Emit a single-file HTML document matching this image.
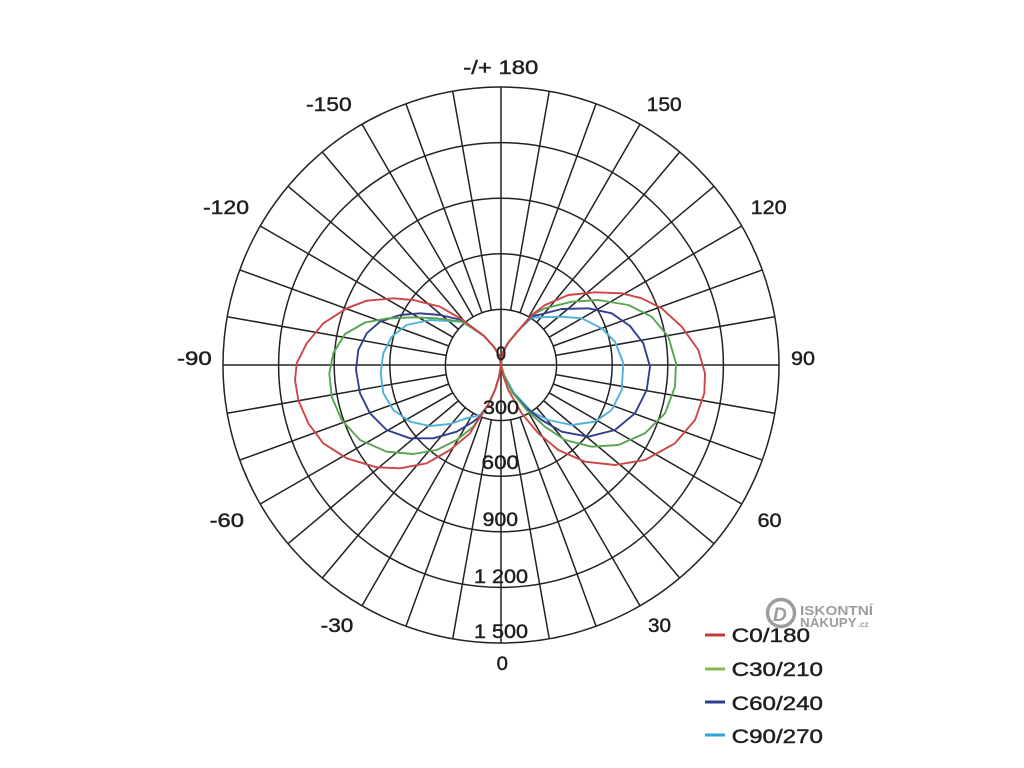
<!DOCTYPE html>
<html>
<head>
<meta charset="utf-8">
<style>
html,body{margin:0;padding:0;background:#fff;}
svg{display:block;}
text{font-family:"Liberation Sans",sans-serif;fill:#1e1e1e;stroke:#1e1e1e;stroke-width:0.45;}
</style>
</head>
<body>
<svg width="1024" height="768" viewBox="0 0 1024 768" xmlns="http://www.w3.org/2000/svg">
<rect width="1024" height="768" fill="#fff"/>
<!-- grid -->
<g transform="translate(501 365)" stroke="#222" stroke-width="1.5" fill="none">
  <circle r="55.6"/>
  <circle r="111.2"/>
  <circle r="166.8"/>
  <circle r="222.4"/>
  <circle r="278"/>
  <line x1="-278" y1="0" x2="278" y2="0"/>
  <line x1="0" y1="-278" x2="0" y2="278"/>
  <g>
    <line x1="55.6" x2="278" transform="rotate(10)"/>
    <line x1="55.6" x2="278" transform="rotate(20)"/>
    <line x1="55.6" x2="278" transform="rotate(30)"/>
    <line x1="55.6" x2="278" transform="rotate(40)"/>
    <line x1="55.6" x2="278" transform="rotate(50)"/>
    <line x1="55.6" x2="278" transform="rotate(60)"/>
    <line x1="55.6" x2="278" transform="rotate(70)"/>
    <line x1="55.6" x2="278" transform="rotate(80)"/>
    <line x1="55.6" x2="278" transform="rotate(100)"/>
    <line x1="55.6" x2="278" transform="rotate(110)"/>
    <line x1="55.6" x2="278" transform="rotate(120)"/>
    <line x1="55.6" x2="278" transform="rotate(130)"/>
    <line x1="55.6" x2="278" transform="rotate(140)"/>
    <line x1="55.6" x2="278" transform="rotate(150)"/>
    <line x1="55.6" x2="278" transform="rotate(160)"/>
    <line x1="55.6" x2="278" transform="rotate(170)"/>
    <line x1="55.6" x2="278" transform="rotate(190)"/>
    <line x1="55.6" x2="278" transform="rotate(200)"/>
    <line x1="55.6" x2="278" transform="rotate(210)"/>
    <line x1="55.6" x2="278" transform="rotate(220)"/>
    <line x1="55.6" x2="278" transform="rotate(230)"/>
    <line x1="55.6" x2="278" transform="rotate(240)"/>
    <line x1="55.6" x2="278" transform="rotate(250)"/>
    <line x1="55.6" x2="278" transform="rotate(260)"/>
    <line x1="55.6" x2="278" transform="rotate(280)"/>
    <line x1="55.6" x2="278" transform="rotate(290)"/>
    <line x1="55.6" x2="278" transform="rotate(300)"/>
    <line x1="55.6" x2="278" transform="rotate(310)"/>
    <line x1="55.6" x2="278" transform="rotate(320)"/>
    <line x1="55.6" x2="278" transform="rotate(330)"/>
    <line x1="55.6" x2="278" transform="rotate(340)"/>
    <line x1="55.6" x2="278" transform="rotate(350)"/>
  </g>
</g>

<!-- curves -->
<g fill="none" stroke-width="1.9" stroke-linejoin="round" stroke-linecap="round">
  <!-- cyan C90/270 -->
  <path stroke="#4fb0d8" d="M501,365 L499,355 L494,347 L484,336 L472,328 L461.7,321.7 L430,320 L406.7,325 L391.7,336.7 L383.3,353.3 L380.7,373.3 L383.3,393.3 L393.3,410 L410,421.7 L430,426 L450,424 L466.7,418.3 L480,415 L488,405 L495,390 L499,377 Z"/>
  <path stroke="#4fb0d8" d="M501,365 L503,352 L508,343 L517,332 L531.7,317.5 L561.7,316.7 L581.7,318.3 L601.7,328.3 L615,341.7 L623.3,363 L621.7,390 L611.7,410 L595,421.7 L571.7,425 L548.3,420 L531.7,411.7 L514,393 L504,375 Z"/>
  <!-- blue C60/240 -->
  <path stroke="#323e90" d="M501,365 L499,355 L494,347 L484,336 L472,327 L461.7,320 L440,315 L420,313.3 L400,315 L380,321.7 L366.7,333.3 L358.3,350 L356,370 L360,393.3 L370,413.3 L386.7,430 L410,438.3 L433.3,438.3 L456.7,431.7 L473.3,421.7 L481.7,415 L488,405 L495,390 L499,377 Z"/>
  <path stroke="#323e90" d="M501,365 L503,352 L508,343 L517,332 L531.7,316 L538.3,315 L561.7,309 L588.3,308.3 L611.7,313.3 L630,326 L643.3,343.3 L650,366.7 L646.7,390 L635,413.3 L615,430 L588.3,436.7 L561.7,431.7 L541.7,420 L526.7,408.3 L512,392 L504,375 Z"/>
  <!-- green C30/210 -->
  <path stroke="#57a550" d="M501,365 L499,355 L494,347 L484,336 L472,328 L461.7,321.7 L436.7,318.3 L413.3,317.3 L386.7,318.5 L365,322.5 L345,334 L333.3,353.3 L329.3,373.3 L331.7,396.7 L341.7,420 L360,440 L386.7,451.7 L413.3,454 L436.7,450 L456.7,440 L473.3,426.7 L481.7,415 L488,405 L495,390 L499,377 Z"/>
  <path stroke="#57a550" d="M501,365 L503,352 L508,343 L517,332 L531.7,315 L545,308.3 L571.7,301.7 L598.3,300 L628.3,305 L651.7,316.7 L668.3,336.7 L676,363.3 L675,386.7 L665,413.3 L645,433.3 L618.3,445 L591.7,446.7 L565,440 L545,426.7 L526.7,410 L512,392 L504,375 Z"/>
  <!-- red C0/180 -->
  <path stroke="#cf4444" d="M501,365 L499,355 L494,347 L484,336 L472,327 L461.7,319.3 L440,306.7 L413.3,300 L393.3,298.3 L366.7,300.7 L346.7,308.3 L323.3,323.3 L306.7,343.3 L296.7,363.3 L295,380 L298.3,400 L308.3,423.3 L323.3,443.3 L346.7,458.3 L376.7,467.3 L400,468.3 L426.7,463.3 L450,450 L470,433.3 L480,416.7 L488,405 L495,390 L499,377 Z"/>
  <path stroke="#cf4444" d="M501,365 L503,352 L508,343 L517,332 L531.7,315 L545,305 L568.3,295 L595,292.3 L621.7,293.3 L641.7,298.3 L661.7,308.3 L681.7,326.7 L698.3,350 L705,373.3 L704.3,393.3 L695,420 L675,443.3 L645,460 L615,465 L585,461.7 L558.3,450 L538.3,433.3 L521.7,413.3 L508.3,390 L503,375 Z"/>
</g>

<!-- angle labels -->
<g font-size="19.5">
  <text x="463.3" y="74" textLength="75" lengthAdjust="spacingAndGlyphs">-/+ 180</text>
  <text x="306" y="111" textLength="45.7" lengthAdjust="spacingAndGlyphs">-150</text>
  <text x="646.7" y="111" textLength="35" lengthAdjust="spacingAndGlyphs">150</text>
  <text x="203" y="214" textLength="46" lengthAdjust="spacingAndGlyphs">-120</text>
  <text x="750.7" y="214" textLength="36" lengthAdjust="spacingAndGlyphs">120</text>
  <text x="177" y="365" textLength="34.7" lengthAdjust="spacingAndGlyphs">-90</text>
  <text x="791" y="365" textLength="24" lengthAdjust="spacingAndGlyphs">90</text>
  <text x="209.6" y="527" textLength="34.4" lengthAdjust="spacingAndGlyphs">-60</text>
  <text x="757.5" y="527" textLength="24.1" lengthAdjust="spacingAndGlyphs">60</text>
  <text x="320.7" y="632" textLength="32.6" lengthAdjust="spacingAndGlyphs">-30</text>
  <text x="648" y="632" textLength="23" lengthAdjust="spacingAndGlyphs">30</text>
  <text x="496.7" y="670" textLength="11.3" lengthAdjust="spacingAndGlyphs">0</text>
</g>

<!-- radial labels -->
<g font-size="19.5">
  <text x="496" y="360" textLength="10" lengthAdjust="spacingAndGlyphs">0</text>
  <text x="483" y="414" textLength="36" lengthAdjust="spacingAndGlyphs">300</text>
  <text x="481.7" y="469" textLength="37.3" lengthAdjust="spacingAndGlyphs">600</text>
  <text x="482.7" y="526" textLength="35.3" lengthAdjust="spacingAndGlyphs">900</text>
  <text x="474" y="583" textLength="54" lengthAdjust="spacingAndGlyphs">1 200</text>
  <text x="474" y="638" textLength="54" lengthAdjust="spacingAndGlyphs">1 500</text>
</g>

<!-- watermark -->
<g opacity="0.85">
  <circle cx="781" cy="613" r="13.5" fill="none" stroke="#8c8c8c" stroke-width="3.5"/>
  <text x="773" y="621" font-size="19" font-weight="bold" font-style="italic" style="fill:#8c8c8c;stroke:none">D</text>
  <text x="800" y="615" font-size="13" font-weight="bold" textLength="73" lengthAdjust="spacingAndGlyphs" style="fill:#8c8c8c;stroke:none">ISKONTNÍ</text>
  <text x="800" y="627" font-size="13" font-weight="bold" textLength="56.7" lengthAdjust="spacingAndGlyphs" style="fill:#8c8c8c;stroke:none">NÁKUPY</text>
  <text x="858" y="627" font-size="8" font-weight="bold" style="fill:#8c8c8c;stroke:none">.cz</text>
</g>

<!-- legend -->
<g stroke-width="3" stroke-linecap="butt">
  <line x1="705" y1="635" x2="725" y2="635" stroke="#c8383a"/>
  <line x1="705" y1="669" x2="725" y2="669" stroke="#85b850"/>
  <line x1="705" y1="702" x2="725" y2="702" stroke="#2e3d8f"/>
  <line x1="705" y1="735" x2="725" y2="735" stroke="#2ea3d8"/>
</g>
<g font-size="19.5">
  <text x="731.7" y="642" textLength="78.3" lengthAdjust="spacingAndGlyphs">C0/180</text>
  <text x="731.7" y="676" textLength="91.3" lengthAdjust="spacingAndGlyphs">C30/210</text>
  <text x="731.7" y="710" textLength="91.3" lengthAdjust="spacingAndGlyphs">C60/240</text>
  <text x="731.7" y="743" textLength="91.3" lengthAdjust="spacingAndGlyphs">C90/270</text>
</g>
</svg>
</body>
</html>
